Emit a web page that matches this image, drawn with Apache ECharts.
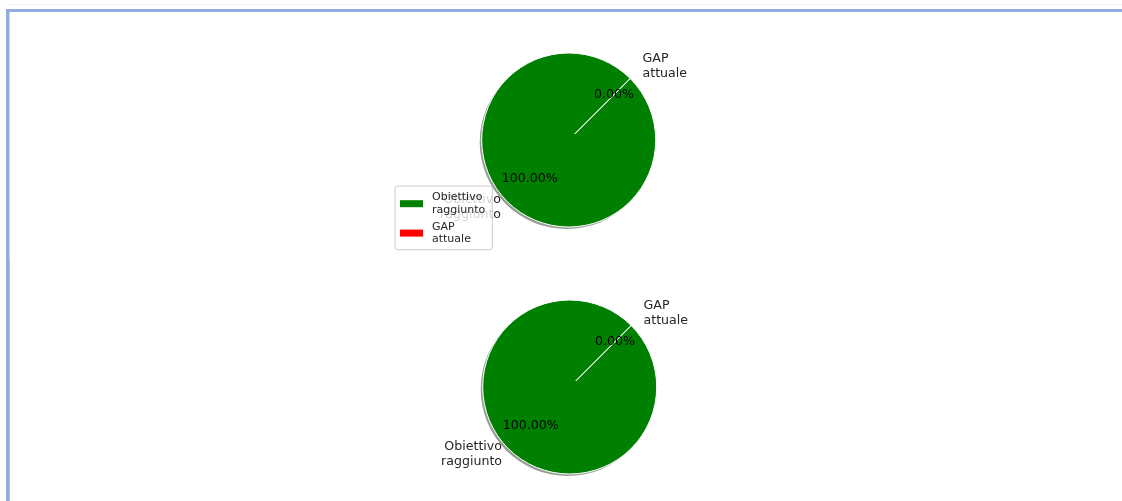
<!DOCTYPE html>
<html>
<head>
<meta charset="utf-8">
<script src="https://cdn.jsdelivr.net/npm/echarts@6/dist/echarts.min.js"></script>
<style>
  html, body { margin: 0; padding: 0; background: #ffffff; }
  #wrap { position: relative; width: 1122px; height: 501px; overflow: hidden; background: #fff; }
  .b { position: absolute; }
  #chart { position: absolute; left: 0; top: 0; width: 1122px; height: 501px; }
</style>
</head>
<body>
<div id="wrap">
  <div class="b" style="left:6px; right:0; top:4px; height:1px; background:#eef2f9;"></div>
  <div class="b" style="left:6px; right:0; top:9px; height:3px; background:#93aede;"></div>
  <div class="b" style="left:6px; top:9px; width:3px; bottom:0; background:#93aede;"></div>
  <div class="b" style="left:9px; top:12px; width:1px; height:247px; background:#c3d3ef;"></div>
  <div class="b" style="left:9px; top:259px; width:1px; bottom:0; background:#a9c0e8;"></div>
  <div id="chart"></div>
</div>
<script>
// ---- data ----
const categories = ['Obiettivo\nraggiunto', 'GAP\nattuale'];
const colors = ['#008000', '#ff0000'];
const valuesTop = [100, 0];
const valuesBottom = [100, 0];
const explode = [0, 0.1];

// ---- layout ----
const R = 87;
const centers = [[568.7, 140], [569.7, 387]];
const FONT = 'DejaVu Sans';

function makeData(values, withColor) {
  return categories.map((name, i) => {
    const d = { name: name, value: values[i], selected: explode[i] > 0 };
    if (withColor) d.itemStyle = { color: colors[i] };
    return d;
  });
}

function pieGroup(values, center) {
  const sum = values.reduce((a, b) => a + b, 0);
  const common = {
    type: 'pie',
    startAngle: 45,
    clockwise: true,
    avoidLabelOverlap: false,
    selectedMode: 'multiple',
    selectedOffset: R * 0.1,
    silent: true,
    animation: false,
    minShowLabelAngle: 0,
    legendHoverLink: false
  };
  return [
    // shadow
    Object.assign({}, common, {
      center: [center[0] - 2, center[1] + 2],
      radius: R,
      z: 1,
      itemStyle: { color: 'rgba(20,45,20,0.45)', borderWidth: 0 },
      select: { itemStyle: { color: 'rgba(20,45,20,0.45)', borderWidth: 0 } },
      label: { show: false },
      labelLine: { show: false },
      data: makeData(values, false)
    }),
    // wedges + name labels
    Object.assign({}, common, {
      center: center,
      radius: R,
      z: 2,
      itemStyle: { borderColor: '#ffffff', borderWidth: 1 },
      select: { itemStyle: { borderColor: '#ffffff', borderWidth: 1 } },
      label: {
        show: true,
        position: 'outside',
        formatter: '{b}',
        fontFamily: FONT,
        fontSize: 12.6,
        lineHeight: 15,
        color: '#262626',
        distanceToLabelLine: 0
      },
      labelLine: { show: false, length: R * 0.1, length2: 0 },
      data: makeData(values, true)
    }),
    // percentage labels
    Object.assign({}, common, {
      center: center,
      radius: [0, R * 1.2],
      z: 3,
      itemStyle: { color: 'rgba(0,0,0,0)', borderWidth: 0 },
      select: { itemStyle: { color: 'rgba(0,0,0,0)', borderWidth: 0 } },
      label: {
        show: true,
        position: 'inside',
        formatter: p => (p.value / sum * 100).toFixed(2) + '%',
        fontFamily: FONT,
        fontSize: 12.6,
        color: '#000'
      },
      labelLine: { show: false },
      data: makeData(values, false)
    })
  ];
}

const chart = echarts.init(document.getElementById('chart'), null, { renderer: 'canvas' });
chart.setOption({
  backgroundColor: 'transparent',
  animation: false,
  legend: {
    orient: 'vertical',
    left: 395,
    top: 186,
    z: 10,
    padding: [5, 7, 4, 5],
    itemGap: 4,
    itemWidth: 23,
    itemHeight: 7,
    icon: 'rect',
    selectedMode: false,
    backgroundColor: 'rgba(255,255,255,0.8)',
    borderColor: '#cccccc',
    borderWidth: 1,
    borderRadius: 3,
    textStyle: { fontFamily: FONT, fontSize: 11, lineHeight: 12.7, color: '#262626', padding: [0, 0, 0, 4] },
    data: categories.map((name, i) => ({ name: name, itemStyle: { color: colors[i] } }))
  },
  series: [].concat(pieGroup(valuesTop, centers[0]), pieGroup(valuesBottom, centers[1]))
});
</script>
</body>
</html>
